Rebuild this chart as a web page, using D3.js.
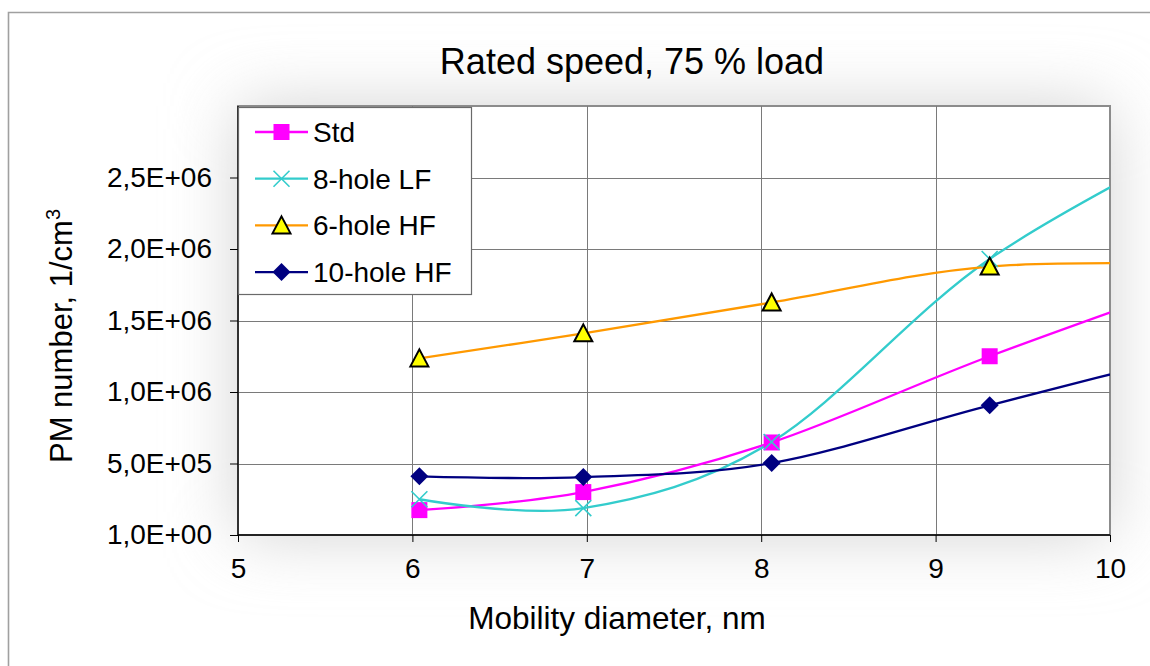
<!DOCTYPE html>
<html>
<head>
<meta charset="utf-8">
<script src="https://cdn.jsdelivr.net/npm/d3@7"></script>
<style>
  body { margin: 0; background: #fff; }
  svg { display: block; }
  text { font-family: "Liberation Sans", Arial, sans-serif; fill: #000; }
</style>
</head>
<body>
<svg id="chart" width="1150" height="666"></svg>
<script>
// Particle size bins (mobility diameter, nm); the last bin lies beyond the axis end
const diameters = [6.04, 6.98, 8.06, 9.31, 10.75];

const seriesNames = ["Std", "8-hole LF", "6-hole HF", "10-hole HF"];
const stdValues  = [1.74e5, 3.0e5, 6.47e5, 1.25e6, 1.88e6];
const lf8Values  = [2.5e5, 1.88e5, 6.5e5, 1.93e6, 2.91e6];
const hf6Values  = [1.235e6, 1.41e6, 1.626e6, 1.877e6, 1.89e6];
const hf10Values = [4.1e5, 4.05e5, 5.03e5, 9.07e5, 1.354e6];

const xTicks = [5, 6, 7, 8, 9, 10];
const yTicks = [1, 5e5, 1e6, 1.5e6, 2e6, 2.5e6];
const yTickLabels = ["1,0E+00", "5,0E+05", "1,0E+06", "1,5E+06", "2,0E+06", "2,5E+06"];

const titleText = "Rated speed, 75 % load";
const xTitle = "Mobility diameter, nm";

const svg = d3.select("#chart");
const W = 1150, H = 666;
const plot = { left: 238, top: 106, right: 1110, bottom: 535 };

const x = d3.scaleLinear().domain([5, 10]).range([plot.left, plot.right]);
const y = d3.scaleLinear().domain([0, 3e6]).range([plot.bottom, plot.top]);

const defs = svg.append("defs");
const glow = defs.append("filter").attr("id", "glow")
  .attr("x", "-40%").attr("y", "-60%").attr("width", "180%").attr("height", "220%");
glow.append("feGaussianBlur").attr("stdDeviation", 34);
defs.append("clipPath").attr("id", "plotClip")
  .append("rect")
  .attr("x", plot.left).attr("y", plot.top)
  .attr("width", plot.right - plot.left).attr("height", plot.bottom - plot.top);

// chart area
svg.append("rect").attr("width", W).attr("height", H).attr("fill", "#fff");
svg.append("rect")
  .attr("x", plot.left).attr("y", plot.top)
  .attr("width", plot.right - plot.left).attr("height", plot.bottom - plot.top)
  .attr("fill", "#d2d2d2").attr("filter", "url(#glow)");
svg.append("path")
  .attr("d", `M8.5,${H} L8.5,12.5 L${W},12.5`)
  .attr("fill", "none").attr("stroke", "#a0a0a0").attr("stroke-width", 1.6);

// plot area
svg.append("rect")
  .attr("x", plot.left).attr("y", plot.top)
  .attr("width", plot.right - plot.left).attr("height", plot.bottom - plot.top)
  .attr("fill", "#fff").attr("stroke", "#8c8c8c").attr("stroke-width", 2);

// gridlines
const grid = svg.append("g").attr("stroke", "#7a7a7a").attr("stroke-width", 1);
grid.selectAll("line.h").data(yTicks.slice(1)).join("line")
  .attr("x1", plot.left).attr("x2", plot.right)
  .attr("y1", d => Math.round(y(d)) + 0.5).attr("y2", d => Math.round(y(d)) + 0.5);
grid.selectAll("line.v").data(xTicks.slice(1, -1)).join("line")
  .attr("y1", plot.top).attr("y2", plot.bottom)
  .attr("x1", d => Math.round(x(d)) + 0.5).attr("x2", d => Math.round(x(d)) + 0.5);

// axes
const yAxis = d3.axisLeft(y).tickValues(yTicks).tickSize(8).tickPadding(18)
  .tickFormat((d, i) => yTickLabels[i]);
const gy = svg.append("g").attr("transform", `translate(${plot.left},0)`).call(yAxis);
const xAxis = d3.axisBottom(x).tickValues(xTicks).tickSize(7).tickPadding(16)
  .tickFormat(d3.format("d"));
const gx = svg.append("g").attr("transform", `translate(0,${plot.bottom})`).call(xAxis);
[gx, gy].forEach(g => {
  g.select(".domain").attr("stroke", "#000").attr("stroke-width", 1.3);
  g.selectAll(".tick line").attr("stroke", "#000").attr("stroke-width", 1);
  g.selectAll("text").attr("font-size", 28).attr("font-family", "Liberation Sans, Arial, sans-serif").attr("fill", "#000");
});
gy.select(".domain").attr("d", `M0,${plot.top}V${plot.bottom}`);
gx.select(".domain").attr("d", `M${plot.left},0H${plot.right}`);

// titles
svg.append("text").attr("x", 632).attr("y", 74).attr("text-anchor", "middle")
  .attr("font-size", 36).text(titleText);
svg.append("text").attr("x", 617).attr("y", 629).attr("text-anchor", "middle")
  .attr("font-size", 31.5).text(xTitle);
const yt = svg.append("text").attr("transform", "translate(72,336) rotate(-90)")
  .attr("text-anchor", "middle").attr("font-size", 31);
yt.append("tspan").text("PM number,  1/cm");
yt.append("tspan").attr("font-size", 20).attr("dy", -12).text("3");

// marker painters
const markers = {
  square: (g, c) => g.append("rect").attr("x", -8).attr("y", -8).attr("width", 16).attr("height", 16)
    .attr("fill", c),
  cross: (g, c) => g.append("path").attr("d", "M-8,-8L8,8M-8,8L8,-8")
    .attr("stroke", c).attr("stroke-width", 1.6).attr("fill", "none"),
  triangle: (g, c) => g.append("path").attr("d", "M0,-9L9,8L-9,8Z")
    .attr("fill", c).attr("stroke", "#000").attr("stroke-width", 2).attr("stroke-linejoin", "miter"),
  diamond: (g, c) => g.append("path").attr("d", "M0,-9L9,0L0,9L-9,0Z").attr("fill", c)
};

const series = [
  { name: seriesNames[0], values: stdValues,  color: "#ff00ff", marker: "square",   mcolor: "#ff00ff" },
  { name: seriesNames[1], values: lf8Values,  color: "#33cccc", marker: "cross",    mcolor: "#33cccc" },
  { name: seriesNames[2], values: hf6Values,  color: "#ff9900", marker: "triangle", mcolor: "#ffff00" },
  { name: seriesNames[3], values: hf10Values, color: "#000080", marker: "diamond",  mcolor: "#000080" }
];

const line = d3.line().x(d => x(d[0])).y(d => y(d[1])).curve(d3.curveCardinal.tension(0));
const plotG = svg.append("g").attr("clip-path", "url(#plotClip)");

series.forEach(s => {
  const pts = diameters.map((d, i) => [d, s.values[i]]);
  plotG.append("path").datum(pts).attr("d", line)
    .attr("fill", "none").attr("stroke", s.color).attr("stroke-width", 2.3);
});
series.forEach(s => {
  diameters.forEach((d, i) => {
    const g = plotG.append("g").attr("transform", `translate(${x(d)},${y(s.values[i])})`);
    markers[s.marker](g, s.mcolor);
  });
});

// legend
const lg = svg.append("g");
lg.append("rect").attr("x", 238.5).attr("y", 107.5).attr("width", 233).attr("height", 187)
  .attr("fill", "#fff").attr("stroke", "#6a6a6a").attr("stroke-width", 1.2);
series.forEach((s, i) => {
  const cy = 132 + i * 46.7;
  lg.append("line").attr("x1", 255).attr("x2", 308).attr("y1", cy).attr("y2", cy)
    .attr("stroke", s.color).attr("stroke-width", 2.3);
  const g = lg.append("g").attr("transform", `translate(281.5,${cy})`);
  markers[s.marker](g, s.mcolor);
  lg.append("text").attr("x", 313).attr("y", cy + 10).attr("font-size", 28).text(s.name);
});
</script>
</body>
</html>
